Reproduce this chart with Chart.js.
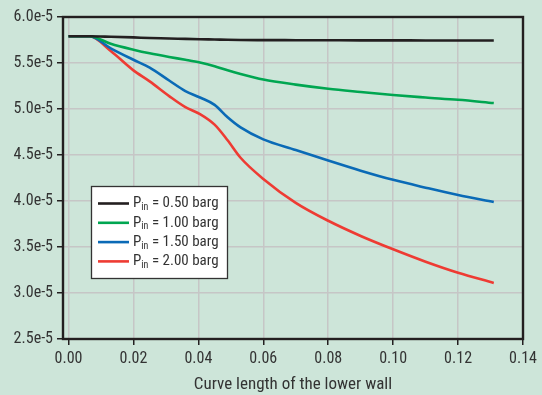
<!DOCTYPE html>
<html>
<head>
<meta charset="utf-8">
<script src="https://cdn.jsdelivr.net/npm/chart.js@4/dist/chart.umd.min.js"></script>
<style>
  html, body { margin: 0; padding: 0; background: #cde5d9; }
  #wrap { width: 542px; height: 395px; }
</style>
</head>
<body>
<div id="wrap"><canvas id="c" width="542" height="395"></canvas></div>
<script>
// ---- data ----
const xValues = [0, 0.0065, 0.013, 0.02, 0.025, 0.031, 0.036, 0.0405, 0.045, 0.049, 0.053, 0.06, 0.07, 0.08, 0.09, 0.10, 0.11, 0.12, 0.131];
const p050 = [5.79e-5, 5.79e-5, 5.785e-5, 5.778e-5, 5.772e-5, 5.767e-5, 5.762e-5, 5.758e-5, 5.755e-5, 5.752e-5, 5.75e-5, 5.749e-5, 5.748e-5, 5.747e-5, 5.746e-5, 5.746e-5, 5.745e-5, 5.745e-5, 5.745e-5];
const p100 = [5.79e-5, 5.79e-5, 5.71e-5, 5.645e-5, 5.605e-5, 5.565e-5, 5.535e-5, 5.505e-5, 5.465e-5, 5.42e-5, 5.38e-5, 5.32e-5, 5.265e-5, 5.22e-5, 5.185e-5, 5.152e-5, 5.125e-5, 5.10e-5, 5.065e-5];
const p150 = [5.79e-5, 5.79e-5, 5.66e-5, 5.535e-5, 5.45e-5, 5.31e-5, 5.195e-5, 5.125e-5, 5.045e-5, 4.91e-5, 4.80e-5, 4.67e-5, 4.555e-5, 4.44e-5, 4.33e-5, 4.23e-5, 4.145e-5, 4.065e-5, 3.99e-5];
const p200 = [5.79e-5, 5.79e-5, 5.63e-5, 5.42e-5, 5.30e-5, 5.14e-5, 5.02e-5, 4.945e-5, 4.83e-5, 4.66e-5, 4.47e-5, 4.24e-5, 3.98e-5, 3.785e-5, 3.62e-5, 3.475e-5, 3.34e-5, 3.22e-5, 3.11e-5];
const pressures = ['0.50', '1.00', '1.50', '2.00'];
const seriesValues = [p050, p100, p150, p200];
const xTicks = [0, 0.02, 0.04, 0.06, 0.08, 0.10, 0.12, 0.14];
const yTicks = [2.5e-5, 3.0e-5, 3.5e-5, 4.0e-5, 4.5e-5, 5.0e-5, 5.5e-5, 6.0e-5];
const xTitle = 'Curve length of the lower wall';

const colors = ['#231f20', '#00a651', '#0a6ab6', '#ee3b33'];
const FONT = "'Roboto Condensed', 'DejaVu Sans Condensed', sans-serif";
const TEXT = '#333333';

const datasets = seriesValues.map((vals, i) => ({
  label: 'P_in = ' + pressures[i] + ' barg',
  data: xValues.map((x, j) => ({ x: x, y: vals[j] })),
  borderColor: colors[i],
  borderWidth: 2.6,
  pointRadius: 0,
  fill: false,
  cubicInterpolationMode: 'monotone'
}));

const framePlugin = {
  id: 'frameAndLegend',
  afterDraw(chart) {
    const ctx = chart.ctx;
    const a = chart.chartArea;
    ctx.save();
    ctx.strokeStyle = '#231f20';
    ctx.lineWidth = 2.4;
    ctx.strokeRect(a.left, a.top, a.right - a.left, a.bottom - a.top);

    // legend box
    const bx = 91.5, by = 186.5, bw = 136, bh = 92;
    ctx.fillStyle = '#ffffff';
    ctx.fillRect(bx, by, bw, bh);
    ctx.strokeStyle = '#333333';
    ctx.lineWidth = 1.3;
    ctx.strokeRect(bx, by, bw, bh);
    const rowY0 = 203.5, rowStep = 19.3;
    chart.data.datasets.forEach((ds, i) => {
      const y = rowY0 + i * rowStep;
      ctx.strokeStyle = ds.borderColor;
      ctx.lineWidth = 2.6;
      ctx.beginPath();
      ctx.moveTo(98, y);
      ctx.lineTo(129, y);
      ctx.stroke();
      ctx.fillStyle = TEXT;
      ctx.textBaseline = 'middle';
      ctx.textAlign = 'left';
      ctx.font = '15px ' + FONT;
      let x = 133;
      ctx.fillText('P', x, y);
      x += ctx.measureText('P').width;
      ctx.font = '10px ' + FONT;
      ctx.fillText('in', x, y + 4);
      x += ctx.measureText('in').width;
      ctx.font = '15px ' + FONT;
      ctx.fillText(' = ' + pressures[i] + ' barg', x, y);
    });
    ctx.restore();
  }
};

new Chart(document.getElementById('c'), {
  type: 'line',
  data: { datasets: datasets },
  plugins: [framePlugin],
  options: {
    responsive: false,
    animation: false,
    devicePixelRatio: 1,
    layout: { padding: { top: 17, right: 19, left: 0, bottom: 0 } },
    plugins: { legend: { display: false }, tooltip: { enabled: false } },
    scales: {
      x: {
        type: 'linear',
        min: -0.0017,
        max: 0.14,
        afterBuildTicks: (s) => { s.ticks = xTicks.map(v => ({ value: v })); },
        afterFit: (s) => { s.height = 56; },
        grid: { color: '#c6c6c6', lineWidth: 1.5, tickColor: '#231f20', tickWidth: 1.5, tickLength: 6 },
        border: { display: false },
        ticks: {
          color: TEXT,
          font: { family: FONT, size: 16 },
          padding: 4,
          maxRotation: 0,
          callback: (v) => v.toFixed(2)
        },
        title: {
          display: true,
          text: xTitle,
          color: TEXT,
          font: { family: FONT, size: 17 },
          padding: { top: 0, bottom: 0 }
        }
      },
      y: {
        type: 'linear',
        min: 2.5e-5,
        max: 6.0e-5,
        afterBuildTicks: (s) => { s.ticks = yTicks.map(v => ({ value: v })); },
        afterFit: (s) => { s.width = 63; },
        grid: { color: '#c6c6c6', lineWidth: 1.5, tickColor: '#231f20', tickWidth: 1.5, tickLength: 6 },
        border: { display: false },
        ticks: {
          color: TEXT,
          font: { family: FONT, size: 16 },
          padding: 4,
          callback: (v) => Number(v).toExponential(1)
        }
      }
    }
  }
});
</script>
</body>
</html>
